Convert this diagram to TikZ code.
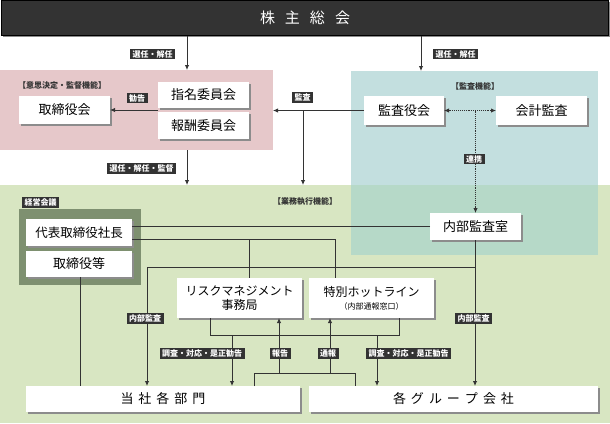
\documentclass[tikz,border=0pt]{standalone}
\usepackage{fontspec}
\setmainfont{Noto Sans CJK JP}
\usepackage{xcolor}
\usetikzlibrary{calc}
\usetikzlibrary{shadows}
\usetikzlibrary{arrows.meta}

\definecolor{darkbar}{HTML}{333333}
\definecolor{pinkbg}{HTML}{E6C8CA}
\definecolor{tealbg}{HTML}{C3DFDF}
\definecolor{greenbg}{HTML}{D8E6C2}
\definecolor{mixbg}{HTML}{B6D9C8}
\definecolor{boardbg}{HTML}{7E9070}

\tikzset{
  region/.style={inner sep=0pt, outer sep=0pt, minimum width=#1},
  whitebox/.style={draw=none, fill=white, inner sep=0pt, outer sep=0pt,
    align=center, font=\fontsize{13}{15}\selectfont,
    drop shadow={shadow xshift=1.5pt, shadow yshift=-1.5pt, fill=black!45, opacity=1}},
  tag/.style={fill=darkbar, text=white, inner xsep=2.5pt, inner ysep=1.5pt,
    font=\fontsize{8}{9}\selectfont\bfseries},
  func/.style={text=darkbar, inner sep=0pt, font=\fontsize{8}{9}\selectfont\bfseries},
  conn/.style={draw=darkbar, line width=0.9pt},
  arr/.style={conn, -{Latex[length=5pt,width=4.5pt]}}
}

\begin{document}
\begin{tikzpicture}[x=1pt, y=-1pt]
\useasboundingbox (0,0) rectangle (610,423);

% background areas
\node[region=273pt, minimum height=80pt, fill=pinkbg] (bd) at (136.5,110) {};
\node[region=610pt, minimum height=238pt, fill=greenbg] (exe) at (305,304) {};
\node[region=247pt, minimum height=184pt, fill=tealbg] (aud) at (474.5,163) {};
\fill[mixbg] (351,185) rectangle (598,255);
\node[region=122pt, minimum height=76pt, fill=boardbg] (mb) at (80,247) {};

\node[func] at (62,85.5) {【意思決定・監督機能】};
\node[func] at (475,86) {【監査機能】};
\node[func] at (305,202) {【業務執行機能】};
\node[tag] (mbl) at (40.5,202.5) {経営会議};

% top bar
\node[fill=darkbar, draw=black, text=white, minimum width=607pt, minimum height=35pt,
  inner sep=0pt, font=\fontsize{15}{17}\selectfont,
  drop shadow={shadow xshift=1pt, shadow yshift=-1.5pt, fill=black!45, opacity=1}]
  (gm) at (305,18) {株\hspace{10pt}主\hspace{10pt}総\hspace{10pt}会};

% boxes
\begin{scope}[every node/.style={whitebox}]
  \node[minimum width=91pt, minimum height=28pt] (tb) at (64.5,110) {取締役会};
  \node[minimum width=91pt, minimum height=26pt] (nc) at (203.5,95) {指名委員会};
  \node[minimum width=91pt, minimum height=27pt] (rc) at (203.5,125.5) {報酬委員会};
  \node[minimum width=80pt, minimum height=29pt] (asb) at (404,110.5) {監査役会};
  \node[minimum width=91pt, minimum height=29pt] (aa) at (541.5,110.5) {会計監査};
  \node[minimum width=91pt, minimum height=27pt] (iad) at (475.5,226.5) {内部監査室};
  \node[minimum width=106pt, minimum height=27pt, font=\fontsize{12.5}{14}\selectfont] (ceo) at (79,232.5) {代表取締役社長};
  \node[minimum width=106pt, minimum height=26pt] (dir) at (79,264) {取締役等};
  \node[minimum width=125pt, minimum height=40pt, font=\fontsize{12}{14}\selectfont] (rm) at (239.5,298) {リスクマネジメント\\事務局};
  \node[minimum width=125pt, minimum height=40pt, font=\fontsize{12}{14}\selectfont] (hl) at (371.5,298)
    {特別ホットライン\\[-1pt]{\fontsize{8}{10}\selectfont （内部通報窓口）}};
  \node[minimum width=274pt, minimum height=26pt] (dp) at (163,399)
    {当\hspace{5pt}社\hspace{5pt}各\hspace{5pt}部\hspace{5pt}門};
  \node[minimum width=289pt, minimum height=26pt] (gc) at (453.5,399)
    {各\hspace{5pt}グ\hspace{5pt}ル\hspace{5pt}ー\hspace{5pt}プ\hspace{5pt}会\hspace{5pt}社};
\end{scope}

\coordinate (x1) at (187,0);
\coordinate (x2) at (421,0);
\coordinate (x3) at (303,0);
\coordinate (c1) at (249,239);
\coordinate (c2) at (335,239);
\coordinate (ia) at (147,267);
\coordinate (bus1) at (210,335);
\coordinate (bus2) at (254,373);

% connectors
\draw[arr] (gm.south -| x1) -- (bd.north -| x1);
\draw[arr] (gm.south -| x2) -- (aud.north -| x2);
\draw[arr] (bd.south -| x1) -- (exe.north -| x1);
\draw[arr] ($(nc.south west)!.5!(rc.north west)$) -- (tb.east);
\draw[arr] (asb.west) -- (asb.west -| bd.east);
\draw[arr] (asb.west -| x3) -- (exe.north -| x3);
\draw[conn, densely dotted, {Latex[length=5pt,width=4.5pt]}-{Latex[length=5pt,width=4.5pt]}] (asb.east) -- (aa.west);
\draw[arr, densely dotted] (asb -| iad.north) -- (iad.north);

\draw[conn] (iad.west) -- (iad.west -| ceo.east);
\draw[conn] (ceo.east |- c2) -- (c2) -- (c2 |- hl.north);
\draw[conn] (c1) -- (c1 |- rm.north);
\draw[arr] (iad.south -| 475,0) -- (gc.north -| 475,0);
\draw[arr] (ia -| 475,0) -- (ia) -- (ia |- dp.north);
\draw[conn] (dir.south -| 80,0) -- (dp.north -| 80,0);

\draw[conn] (rm.south -| bus1) -- (bus1) -| (hl.south -| 399,0);
\draw[arr] (bus1 -| 232,0) -- (dp.north -| 232,0);
\draw[arr] (bus1 -| 377,0) -- (gc.north -| 377,0);
\draw[conn] (dp.north -| bus2) -- (bus2) -| (gc.north -| 355,0);
\draw[arr] (bus2 -| 279,0) -- (rm.south -| 279,0);
\draw[arr] (bus2 -| 330,0) -- (hl.south -| 330,0);

% labels
\node[tag] (l1) at (152.5,54) {選任・解任};
\node[tag] (l2) at (455.5,54) {選任・解任};
\node[tag] (l3) at (137,98) {勧告};
\node[tag] (l4) at (302.5,97.5) {監査};
\node[tag] (l5) at (141.5,168.5) {選任・解任・監督};
\node[tag] (l6) at (474,159) {連携};
\node[tag] (l7) at (145,318.5) {内部監査};
\node[tag] (l8) at (473.5,318.5) {内部監査};
\node[tag] (l9) at (202,353.5) {調査・対応・是正勧告};
\node[tag] (l10) at (408.5,353.5) {調査・対応・是正勧告};
\node[tag] (l11) at (280,353.5) {報告};
\node[tag] (l12) at (328,353.5) {通報};

\end{tikzpicture}
\end{document}
